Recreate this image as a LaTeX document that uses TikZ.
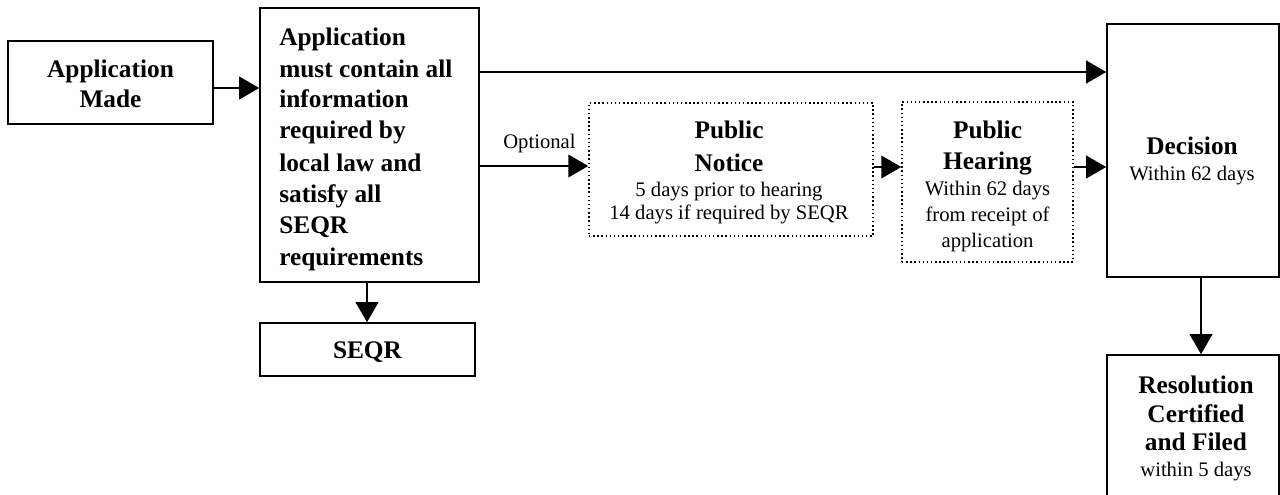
\documentclass[tikz,border=0pt]{standalone}
\usepackage{fontspec}
\setmainfont{Liberation Serif}
\usetikzlibrary{arrows.meta}
\tikzset{
  box/.style={draw, line width=1.2pt, inner sep=0pt},
  dotbox/.style={draw, line width=1.1pt, dotted, inner sep=0pt},
  flow/.style={line width=1.3pt, -{Triangle[length=15pt,width=17pt]}},
  bt/.style={font=\fontsize{19}{23}\selectfont\bfseries, anchor=base, inner sep=0pt},
  rt/.style={font=\fontsize{15.5}{18}\selectfont, anchor=base, inner sep=0pt},
}
\begin{document}
\begin{tikzpicture}[x=0.75pt,y=-0.75pt]
\useasboundingbox (0,0) rectangle (1280,494);
% boxes
\node[box, fit/.style={}] (made) at (110.5,82.5) [minimum width=205*0.75pt, minimum height=83*0.75pt] {};
\node[box] (req) at (369.5,145) [minimum width=219*0.75pt, minimum height=274*0.75pt] {};
\node[box] (seqr) at (367.5,349.5) [minimum width=215*0.75pt, minimum height=53*0.75pt] {};
\node[dotbox] (notice) at (731,169.5) [minimum width=284*0.75pt, minimum height=133*0.75pt] {};
\node[dotbox] (hearing) at (987.5,182) [minimum width=171*0.75pt, minimum height=160*0.75pt] {};
\node[box] (decision) at (1193,150.5) [minimum width=172*0.75pt, minimum height=253*0.75pt] {};
\node[box] (resol) at (1193,430) [minimum width=172*0.75pt, minimum height=150*0.75pt] {};
% texts
\node[bt] (t1) at (110.5,77) {Application};
\node[bt] (t2) at (110.5,107) {Made};
\begin{scope}[every node/.append style={bt, anchor=base west}]
\node (r1) at (279,45) {Application};
\node (r2) at (279,77) {must contain all};
\node (r3) at (279,107) {information};
\node (r4) at (279,138) {required by};
\node (r5) at (279,171) {local law and};
\node (r6) at (279,202) {satisfy all};
\node (r7) at (279,233) {SEQR};
\node (r8) at (279,265) {requirements};
\end{scope}
\node[bt] (s1) at (367.5,358) {SEQR};
\node[bt] (n1) at (729,138) {Public};
\node[bt] (n2) at (729,171) {Notice};
\node[rt] (n3) at (729,196) {5 days prior to hearing};
\node[rt] (n4) at (729,219) {14 days if required by SEQR};
\node[bt] (h1) at (987.5,138) {Public};
\node[bt] (h2) at (987.5,169) {Hearing};
\node[rt] (h3) at (987.5,195) {Within 62 days};
\node[rt] (h4) at (987.5,221) {from receipt of};
\node[rt] (h5) at (987.5,247) {application};
\node[bt] (d1) at (1192,154) {Decision};
\node[rt] (d2) at (1192,180) {Within 62 days};
\node[bt] (e1) at (1196,393) {Resolution};
\node[bt] (e2) at (1196,422) {Certified};
\node[bt] (e3) at (1196,450) {and Filed};
\node[rt] (e4) at (1196,476) {within 5 days};
% connectors
\draw[flow] (made.east |- 0,88) -- (req.west |- 0,88);
\draw[flow] (req.south -| 367,0) -- (seqr.north -| 367,0);
\draw[flow] (req.east |- 0,72) -- (decision.west |- 0,72);
\draw[flow] (req.east |- 0,166) -- node[rt, anchor=base, pos=0.55, yshift=18*0.75pt] (opt) {Optional} (notice.west |- 0,166);
\draw[flow] (notice.east |- 0,167) -- (hearing.west |- 0,167);
\draw[flow] (hearing.east |- 0,167) -- (decision.west |- 0,167);
\draw[flow] (decision.south -| 1201,0) -- (resol.north -| 1201,0);
\end{tikzpicture}
\end{document}
